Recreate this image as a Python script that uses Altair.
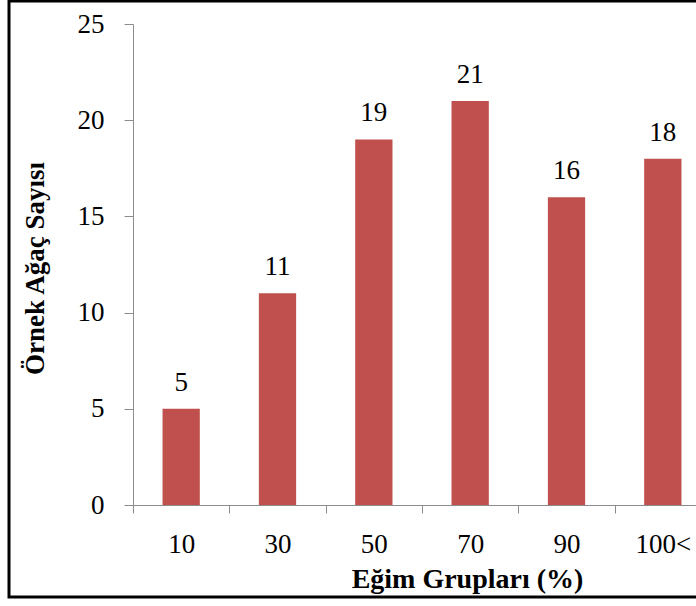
import altair as alt
import pandas as pd

# Slope groups (%) and number of sample trees in each
groups = ["10", "30", "50", "70", "90", "100<"]
counts = [5, 11, 19, 21, 16, 18]
y_ticks = [0, 5, 10, 15, 20, 25]

df = pd.DataFrame({"grup": groups, "sayi": counts})

FONT = "Liberation Serif"
AXIS_GRAY = "#8c8c8c"
BAR_RED = "#C0504D"

x_enc = alt.X(
    "grup:N",
    sort=groups,
    scale=alt.Scale(range=[0, 578], paddingInner=0, paddingOuter=0),
    axis=alt.Axis(
        title="Eğim Grupları (%)",
        labelAngle=0,
        tickBand="extent",
        labelAlign="center",
        labelBaseline="top",
        labelPadding=18,
        labelFont=FONT,
        labelFontSize=27,
        labelColor="black",
        tickSize=8,
        tickColor=AXIS_GRAY,
        domainColor=AXIS_GRAY,
        titleFont=FONT,
        titleFontSize=28,
        titleFontWeight="bold",
        titleColor="black",
        titleX=334,
        titleY=82,
        titleAlign="center",
        titleBaseline="alphabetic",
    ),
)

y_enc = alt.Y(
    "sayi:Q",
    scale=alt.Scale(domain=[0, 25], nice=False),
    axis=alt.Axis(
        title="Örnek Ağaç Sayısı",
        values=y_ticks,
        grid=False,
        labelFont=FONT,
        labelFontSize=27,
        labelColor="black",
        labelPadding=20,
        tickSize=9,
        tickColor=AXIS_GRAY,
        domainColor=AXIS_GRAY,
        titleFont=FONT,
        titleFontSize=27,
        titleFontWeight="bold",
        titleColor="black",
        titleAngle=-90,
        titleX=-90,
        titleY=244,
        titleAlign="center",
        titleBaseline="alphabetic",
    ),
)

base = alt.Chart(df).encode(x=x_enc, y=y_enc)

bars = base.mark_bar(color=BAR_RED, width=alt.RelativeBandSize(0.387))

labels = base.mark_text(
    font=FONT, fontSize=27, color="black", baseline="alphabetic", dy=-18
).encode(text="sayi:Q")

# Black frame around the whole figure
frame = alt.Chart(pd.DataFrame({"k": [0]})).mark_rect(
    fill=None, stroke="black", strokeWidth=3
).encode(
    x=alt.value(-124), x2=alt.value(600),
    y=alt.value(-23), y2=alt.value(573),
)

chart = (
    alt.layer(bars, labels, frame)
    .properties(
        width=563,
        height=481,
        autosize=alt.AutoSizeParams(type="none"),
        padding={"left": 133, "top": 24, "right": 0, "bottom": 101},
        background="white",
    )
    .configure_view(stroke=None)
)

chart.save("out.html", embed_options={"renderer": "svg", "actions": False})
